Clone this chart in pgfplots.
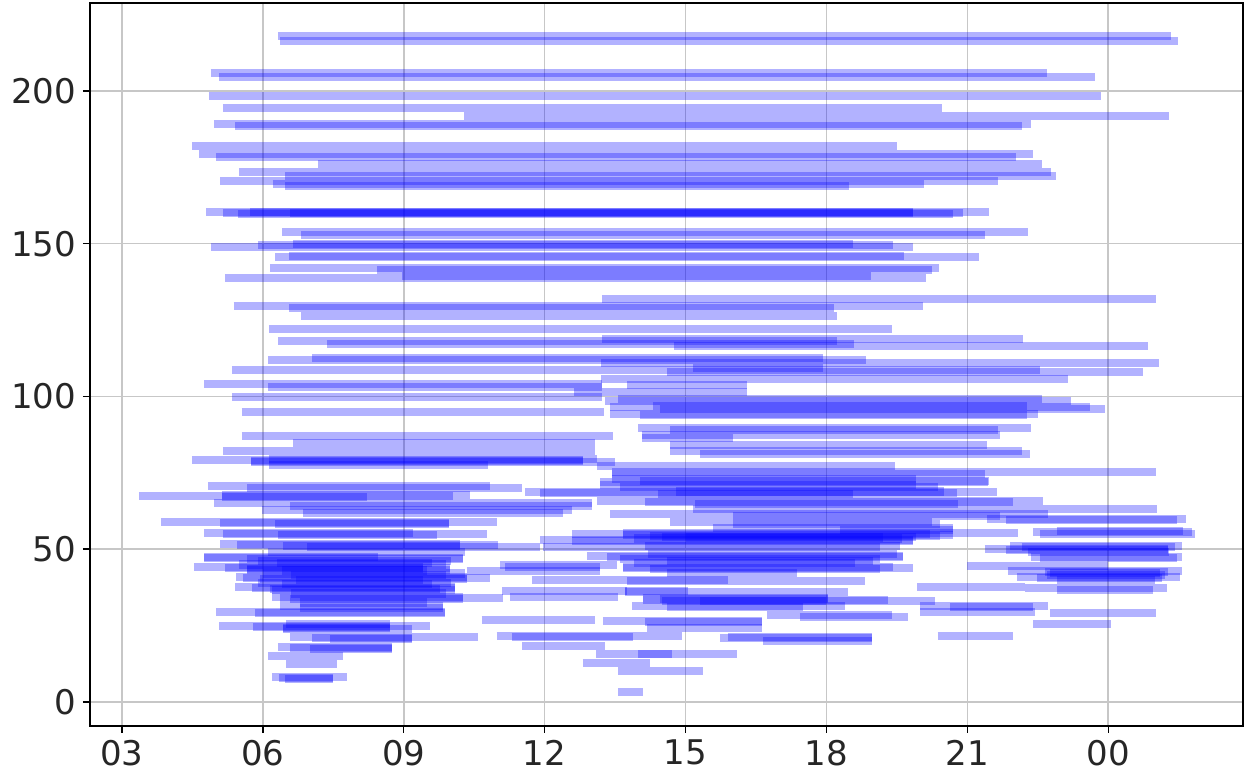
\documentclass[border=0pt]{standalone}
\usepackage{pgfplots}
\usepackage{pgfplotstable}
\pgfplotsset{compat=1.18}
\usepackage{fontspec}
\setmainfont{DejaVu Sans}
\definecolor{mplb}{rgb}{0,0,1}

% y  start(h)  end(h)   -- hours counted from 00:00 of day one
\pgfplotstableread{
y x1 x2
218.0 6.32 25.33
216.4 6.36 25.48
205.9 4.89 22.69
204.6 5.07 23.72
198.4 4.85 23.84
194.4 5.15 20.46
191.8 10.28 25.29
189.2 4.96 22.35
188.5 5.41 22.16
182.0 4.49 19.50
179.4 4.64 22.40
178.4 5.00 22.03
176.1 7.17 22.59
173.5 5.49 22.78
172.2 6.47 22.88
170.5 5.09 21.65
169.6 6.21 20.07
168.9 6.47 18.48
160.4 4.79 21.46
160.1 5.15 20.90
159.7 5.47 20.69
160.4 5.73 19.84
160.1 6.58 19.84
153.8 6.41 22.29
152.9 6.81 21.37
149.9 6.64 18.56
149.6 5.90 19.41
148.9 4.89 19.84
146.0 6.56 19.65
145.7 6.26 21.25
142.1 6.15 20.39
141.4 8.43 20.25
139.4 8.96 18.95
138.8 5.19 20.12
131.9 13.22 25.01
129.6 5.38 20.05
129.0 6.56 18.16
126.4 6.81 18.22
122.1 6.13 19.39
118.8 13.22 22.18
118.2 6.32 18.22
117.2 7.36 18.58
116.5 14.75 24.84
112.6 7.05 17.92
111.9 6.11 18.84
111.0 13.20 25.08
109.3 15.16 17.92
108.7 5.34 22.54
108.0 14.60 24.74
105.7 13.20 23.14
104.1 4.75 13.22
103.1 6.11 13.22
103.8 13.75 16.31
101.5 12.62 16.31
99.8 5.34 13.22
99.2 13.56 22.59
98.5 13.28 23.20
96.9 14.31 22.27
96.6 13.39 23.61
95.9 14.45 23.93
94.9 5.55 13.26
94.3 13.39 22.50
93.9 14.03 22.27
89.7 13.99 22.35
89.0 14.67 21.65
87.1 5.55 13.45
87.4 14.07 21.69
86.4 14.07 16.01
84.8 6.64 13.07
84.1 14.67 21.42
82.2 5.15 13.07
82.2 14.67 22.16
81.2 15.31 22.33
79.2 4.49 12.81
78.9 5.75 12.81
78.6 5.75 13.50
79.5 6.13 13.11
77.6 6.13 10.79
77.3 13.11 19.46
75.3 13.43 25.01
74.6 13.43 21.37
73.0 13.43 19.90
72.3 14.03 21.46
70.7 4.83 10.83
70.0 5.66 11.52
72.0 13.18 21.44
71.0 13.18 19.90
70.4 13.60 20.37
67.4 3.36 10.05
67.1 5.13 8.22
67.8 5.13 10.41
68.7 11.58 21.63
68.4 11.90 20.78
68.1 14.41 18.56
68.9 14.80 20.50
65.1 4.96 13.01
64.2 6.58 13.01
65.8 13.11 22.61
65.5 14.13 21.97
64.8 15.20 20.80
62.8 5.98 12.58
61.9 6.85 12.39
63.2 15.16 25.04
61.5 13.39 22.71
60.9 16.01 21.69
58.9 3.83 10.98
58.6 5.09 9.96
58.3 6.26 9.96
58.9 14.67 20.25
58.3 16.01 20.42
57.0 15.58 20.69
56.3 18.29 20.69
55.3 4.75 9.20
55.0 5.15 10.77
54.7 6.32 9.71
55.3 13.67 22.08
55.0 12.58 20.20
54.7 13.67 20.69
54.3 14.24 20.42
54.0 14.50 19.90
53.5 13.90 19.60
53.8 15.00 19.20
53.0 11.90 19.84
52.7 12.58 19.84
51.7 5.09 10.20
51.4 5.45 11.01
51.1 6.43 10.20
50.7 6.94 11.90
51.1 14.13 19.56
50.7 11.96 19.14
49.0 6.10 10.30
48.5 14.20 19.50
47.8 12.90 19.63
47.5 13.33 19.63
46.8 13.60 19.14
47.5 4.75 8.45
47.1 4.75 10.26
46.8 5.66 10.26
46.0 5.90 10.00
46.0 14.60 19.00
45.5 6.30 9.60
45.5 13.90 18.60
45.0 5.50 9.90
44.8 11.05 13.54
44.2 11.15 13.18
44.2 13.67 19.41
43.9 13.67 19.84
43.5 14.24 19.14
44.2 4.53 9.41
43.9 5.19 9.98
43.5 5.66 9.41
43.2 5.66 9.98
43.0 6.40 9.50
42.9 10.34 13.18
42.2 14.60 17.37
42.0 6.00 10.30
41.5 6.60 9.90
40.9 5.43 10.34
40.6 5.58 10.83
40.3 5.94 10.34
40.0 6.70 9.40
39.9 11.73 13.75
39.9 13.75 15.90
39.6 13.75 18.82
39.0 5.90 10.00
38.5 6.40 9.60
37.6 5.41 10.09
37.3 5.77 10.09
37.0 6.15 9.77
36.5 6.20 10.10
36.3 11.09 13.75
36.3 13.71 15.05
36.0 13.71 18.46
35.5 6.60 9.90
34.4 6.19 10.26
34.0 6.36 11.11
33.7 6.58 10.26
34.4 11.26 11.86
34.4 11.86 13.56
34.0 14.09 18.03
33.7 14.45 18.03
33.4 14.09 19.31
33.1 15.31 20.31
33.0 14.50 18.00
32.5 6.80 9.50
31.4 6.36 9.83
30.8 6.79 9.83
31.4 13.86 18.39
31.1 14.60 17.50
29.5 5.00 9.88
29.1 5.83 9.88
28.5 16.73 19.39
27.8 17.43 19.73
26.8 10.66 13.07
26.5 13.24 16.63
26.2 14.13 16.63
24.2 14.18 16.63
24.9 5.07 9.56
24.5 5.79 8.71
24.2 6.43 8.71
23.9 6.43 9.17
25.5 6.50 8.70
21.6 10.98 14.92
21.3 11.30 13.88
21.3 15.90 18.97
20.9 15.73 18.97
20.0 16.65 18.97
21.3 6.58 10.58
20.9 7.05 9.17
20.6 7.43 9.17
18.3 11.52 13.28
18.0 6.32 8.75
17.7 6.58 8.75
17.3 7.00 8.75
15.7 13.09 16.09
15.7 13.99 14.71
15.1 6.11 7.71
12.8 12.81 14.24
12.4 6.49 7.58
10.1 13.56 15.37
8.2 6.19 7.79
7.9 6.34 7.49
7.5 6.47 7.49
3.3 13.56 14.09
59.9 21.42 25.65
59.6 21.82 25.46
56.0 22.90 25.60
55.6 22.40 25.78
55.0 22.54 25.84
51.1 21.91 25.57
50.7 22.16 25.42
50.1 21.37 25.27
49.8 21.82 25.27
49.0 22.30 25.30
47.5 22.35 25.57
47.1 22.54 25.46
44.5 20.99 23.99
42.9 21.86 25.57
42.6 22.65 25.27
42.2 22.76 25.10
41.5 22.70 25.20
40.9 22.05 25.53
40.6 22.48 25.14
40.0 22.90 25.00
37.6 19.93 22.22
37.3 22.22 25.25
36.7 22.91 24.95
31.4 19.99 22.71
31.1 20.63 22.40
29.5 19.99 22.44
29.1 22.76 25.01
25.5 22.40 24.06
21.6 20.37 21.97
}\segs
\pgfplotstablegetrowsof{\segs}
\pgfmathtruncatemacro{\nseg}{\pgfplotsretval-1}

\begin{document}
\begin{tikzpicture}
\begin{axis}[
  at={(0,0)}, anchor=south west,
  scale only axis, width=576.5pt, height=361.5pt,
  xmin=2.32, xmax=26.87, ymin=-7.9, ymax=228.8,
  xtick={3,6,9,12,15,18,21,24},
  xticklabels={03,06,09,12,15,18,21,00},
  ytick={0,50,100,150,200},
  /pgf/number format/assume math mode=true,
  tick label style={font=\fontsize{17}{20}\selectfont, text=black!85},
  tick pos=left, tick align=outside,
  major tick length=3.5pt,
  every tick/.style={black, line width=0.7pt},
  grid=major,
  grid style={black!22, line width=0.8pt},
  axis line style={black, line width=0.9pt},
  seg/.style={mplb, draw opacity=0.3, line width=4.1pt, line cap=butt, no markers, forget plot},
]
\pgfplotsforeachungrouped \i in {0,...,\nseg}{%
  \pgfplotstablegetelem{\i}{y}\of\segs \let\yy\pgfplotsretval
  \pgfplotstablegetelem{\i}{x1}\of\segs \let\xa\pgfplotsretval
  \pgfplotstablegetelem{\i}{x2}\of\segs \let\xb\pgfplotsretval
  \edef\cmd{\noexpand\addplot[seg] coordinates {(\xa,\yy) (\xb,\yy)};}%
  \cmd
}
\end{axis}
\pgfresetboundingbox
\path[use as bounding box] (-45pt,-25pt) rectangle (579pt,363pt);
\end{tikzpicture}
\end{document}
